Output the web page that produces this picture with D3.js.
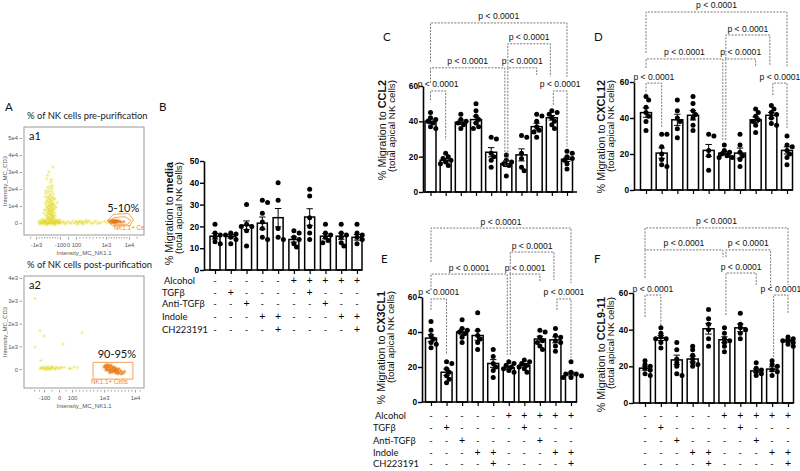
<!DOCTYPE html>
<html><head><meta charset="utf-8">
<script src="https://cdn.jsdelivr.net/npm/d3@7"></script>
<style>body{margin:0;background:#fff}svg{display:block}</style>
</head><body>
<svg id="c" width="800" height="471"></svg>
<script>
// ---------------- DATA ----------------
const groups = ["G1","G2","G3","G4","G5","G6","G7","G8","G9","G10"];
const treatmentNames = ["Alcohol","TGFβ","Anti-TGFβ","Indole","CH223191"];
const alcohol  = ["-","-","-","-","-","+","+","+","+","+"];
const tgfb     = ["-","+","-","-","-","-","+","-","-","-"];
const antiTgfb = ["-","-","+","-","-","-","-","+","-","-"];
const indole   = ["-","-","-","+","+","-","-","-","+","+"];
const ch223191 = ["-","-","-","-","+","-","-","-","-","+"];

const mediaMean = [15.5,15.5,20.5,21.5,24,14,24.3,15.5,15.5,15];
const mediaSem  = [1.3,0.8,2.0,2.8,4.2,1.2,3.8,1.2,1.4,1.3];
const mediaPts  = [[21,17,16,15,13,12],[17,16.5,16,15,14,12],[30,21,20,20,18,11],[32,31,26,22,19,15,14],[40,32,19,15,14],[18,17,15,14,12,10.5],[37,34,24,20,17,14],[21,17,16,15,13.5,12.5],[21,17,16,15,12.5,11],[21,17,16,15,14,12]];

const ccl2Mean = [40,18,39.5,41,22.5,16,21,37,42,18.5];
const ccl2Sem  = [1.3,1.0,1.2,1.9,2.6,1.6,3.4,1.9,1.3,1.2];
const ccl2Pts  = [[45,42,41,40,39,37,36],[22,20,19,18,17,16,15],[44,41,40,39,38,36],[50,46,43,41,39,37,36],[31,30,22,20,18,14],[21,18,17,16,15,9],[32,31,22,19,14,12],[44,43,40,37,35,34,31],[46,45,44,42,40,38,36],[23,22,20,19,18,16,13]];

const cxcl12Mean = [43,20.5,39,41.5,22,20.5,20.5,39,41.5,22];
const cxcl12Sem  = [2.6,2.9,3.1,2.6,3.3,0.9,2.8,1.6,1.6,2.0];
const cxcl12Pts  = [[52,50,46,43,41,38,33],[31,31,24,20,17,14,13],[50,44,40,38,34,29],[52,48,44,42,40,36,33],[31,30,22,19,11],[25,22,21,20,19,18,18],[31,25,21,19,17,13],[45,43,41,39,38,36,32],[47,45,43,42,40,37,36],[30,25,24,22,20,18,14]];

const cx3cl1Mean = [36.5,17,40,38,22,19.5,21,36,35.5,16];
const cx3cl1Sem  = [2.0,1.8,1.6,2.7,2.2,0.8,1.0,1.6,1.7,1.1];
const cx3cl1Pts  = [[46,41,38,36,34,33,31],[23,22,19,17,15,13,11],[47,42,41,40,39,37,34],[51,41,38,36,34,30],[30,26,22,20,18,14],[23,22,21,20,19,18,17],[24,23,22,21,20,19,17],[41,40,37,35,34,32,30],[42,38,37,35,34,32,29],[23,17,16,16,15,14,14]];

const ccl911Mean = [19,35.5,23.5,24,40.5,34.5,41,17.5,18.5,34];
const ccl911Sem  = [1.1,1.4,2.6,1.6,2.9,1.6,2.1,1.0,1.2,0.8];
const ccl911Pts  = [[23,21,20,19,18,16,15],[41,38,36,35,35,33,30],[33,29,24,22,20,16,15],[31,29,26,24,22,21,20],[51,46,43,40,35,31],[41,38,35,34,33,31,28],[49,43,41,40,38,35],[22,19,18,17,16,15],[23,21,20,18,17,15],[36,35,34,34,33,32,31]];

const pLabel = "p < 0.0001";
// comparisons: [groupA, groupB, bracket level, leg end A, leg end B] (in % units)
const ccl2Brackets   = [[0,1,57.2,52,29.5],[0,5,70.3,61.8,15],[5,7,70.3,15,66.3],[5,8,83.9,70.3,65.2],[0,9,95.7,73.7,65.2],[8,9,57.2,49.3,25.5]];
const cxcl12Brackets = [[0,9,98.9,76.1,68.3],[5,8,86.1,72.8,69.4],[0,5,72.8,67.8,27.8],[5,7,72.8,27.8,68.3],[0,1,59.4,52.8,34.4],[8,9,59.4,52.8,34.4]];
const cx3cl1Brackets = [[0,9,99.4,80,68],[5,8,85.7,73.1,69.7],[0,5,73.1,64,26.9],[5,7,73.1,26.9,68.6],[0,1,58.9,52.6,26.9],[8,9,58.9,52.6,25.1]];
const ccl911Brackets = [[0,9,95.5,83.5,64.4],[0,5,83.5,68.2,79.6],[5,8,83.5,79.6,62.7],[5,7,70.9,48,64.4],[0,1,58.9,46.9,42.5],[8,9,58.9,25,49.1]];

// flow cytometry (NK1.1 intensity, CD3 intensity)
const a1XTicks = [-1000,-100,0,100,1000,10000];
const a1XTickLabels = ["-1e3","-100","0","100","1e3","1e4"];
const a1YTicks = [0,10000,20000,30000,40000,50000];
const a1YTickLabels = ["0","1e4","2e4","3e4","4e4","5e4"];
const a2XTicks = [-100,0,100,1000,10000];
const a2XTickLabels = ["-100","0","100","1e3","1e4"];
const a2YTicks = [0,1000,2000,3000,4000];
const a2YTickLabels = ["0","1e3","2e3","3e3","4e3"];

const a1Yellow = [[-520,30000],[-600,26000],[-450,24000],[-380,22000],[-560,21000],[-480,19500],[-400,18500],[-620,17500],[-350,17000],[-500,16000],[-430,15500],[-560,15000],[-330,14500],[-470,14000],[-600,13500],[-410,13000],[-520,12500],[-360,12000],[-650,11500],[-450,11000],[-540,10500],[-300,10000],[-480,9800],[-400,9300],[-580,9000],[-350,8600],[-500,8200],[-430,7800],[-620,7500],[-380,7200],[-530,6800],[-460,6500],[-300,6200],[-570,5900],[-410,5600],[-500,5300],[-350,5000],[-640,4700],[-450,4400],[-380,4100],[-550,3800],[-480,3500],[-320,3200],[-600,2900],[-420,2600],[-520,2300],[-260,2000],[-700,1800],[-440,1500],[-360,33000],[-560,28000],[-400,20500],[-250,9000],[-680,8000],[-280,4500],[-700,6000],[-200,12000],[-650,15500],[-470,11800],[-390,10600],[-520,7100],[-440,5100],[-360,3700],[-590,12200],[-330,8100],
[-500,10200],[-420,9000],[-540,8600],[-460,7400],[-380,6700],[-520,6000],[-440,4800],[-580,4300],[-400,3300],[-480,2900],[-560,2500],[-350,2300],[-450,13500],[-520,14500],[-380,15000],[-470,17000],[-540,18500],[-420,11400],[-600,10000],[-330,11000],[-480,21500],[-420,25500],[-640,19000],[-300,14000],
[-900,800],[-850,200],[-800,1200],[-760,-300],[-720,600],[-680,1500],[-640,0],[-600,900],[-560,-500],[-520,400],[-480,1300],[-440,-200],[-400,700],[-360,100],[-320,1100],[-280,-400],[-240,500],[-200,1400],[-160,-100],[-120,800],[-80,300],[-40,-600],[0,1000],[40,200],[80,-300],[120,600],[200,1200],[280,-200],[360,500],[450,900],[550,0],[650,700],[750,-400],[850,400],[950,1100],[1100,200],[-780,2200],[-600,-900],[-500,2000],[-300,-800],[-100,1800],[150,-700],[400,1700],[-860,-600],[-700,300],[-420,600],[-340,-100],[-180,300],[60,1300],[300,900],[600,-200],[-650,1100],[-550,300],[-380,1700],[-250,1000],[-50,400],[220,300],[500,1300],[-740,900],[-620,-200],[-460,800],[-300,400],[-140,1000],[-20,0],
[-830,500],[-790,-100],[-730,1000],[-690,-500],[-660,700],[-620,1300],[-580,100],[-540,1000],[-500,-300],[-460,300],[-420,1100],[-380,-400],[-340,600],[-300,1300],[-260,-200],[-220,900],[-180,1600],[-140,200],[-100,-300],[-60,900],[20,-200],[100,1000],[160,200],[260,700],[320,-500],[420,200],[700,1200],[800,100]];
const a1Orange = [[2500,800],[3000,1200],[3500,600],[4000,1400],[4500,900],[5000,400],[5500,1100],[6000,700],[3200,1800],[3800,200],[4200,1000],[4800,1600],[2800,300],[5200,1300],[6500,1000],[7000,500],[3600,1000],[4400,500],[2200,1300],[8000,800],[3300,400],[4700,1200],[5800,1500],[3900,1600],[4100,700],[5300,800],[3700,1300],[4600,300],[3400,900],[4300,1200],[5100,1000],[2900,700]];
const a1Gate = [[1500,1350],[3900,5100],[9700,5700],[15700,2200],[11300,-1600],[3600,-1600]];
const a1GateInner = [[2200,1000],[4200,3300],[8500,3700],[12500,1600],[9500,-700],[4200,-700]];

const a2Orange = [[1000,100],[1200,150],[1400,60],[1600,120],[1800,0],[2000,80],[2200,160],[2400,-20],[2600,60],[2800,120],[3000,-60],[3200,20],[3400,80],[3600,-40],[3800,0],[4000,-100],[4200,-20],[4400,40],[4600,-80],[4800,-140],[5000,-40],[5200,-100],[5500,-160],[5800,-60],[6200,-120],[6600,-180],[7000,-100],[1500,-40],[2100,-60],[2700,-100],[3300,-140],[3900,100],[4500,-180],[2300,200],[1700,200],[3100,180],[5300,20],[6000,-220],[2900,-20],[3500,-100],[4100,-60],[4700,0],[2500,100],[3700,60],[4300,-120],[5100,-200],[1900,40],[2650,-160]];
const a2Yellow = [[-130,60],[-120,20],[-110,90],[-100,40],[-95,0],[-90,70],[-80,30],[-75,100],[-70,50],[-60,10],[-55,80],[-50,40],[-40,60],[-30,20],[-20,90],[-10,50],[0,30],[10,80],[20,60],[-85,-20],[-65,-10],[-45,110],[-25,0],[-140,30],[-190,3100],[-140,1700],[-190,960],[-130,380],[380,1600],[90,20],[40,80],[80,40],[150,100],[250,60],[-100,1450],[30,1100]];
const a2Gate = [[690,300],[9400,300],[9400,-435],[690,-435]];

// ---------------- DRAW ----------------
const svg = d3.select("#c");
const FA = "'Liberation Sans', Arial, sans-serif";
const FC = "Lato, 'Open Sans', 'Noto Sans', sans-serif";

function letter(t, x, y){
  svg.append("text").attr("x",x).attr("y",y).attr("font-family",FC).attr("font-size",11.5).attr("fill","#111").text(t);
}

// ---- flow plots ----
function flowPlot(o){
  const g = svg.append("g");
  const x = d3.scaleLinear().domain(o.xDomain).range(o.xFrac.map(f => o.x0 + f*(o.x1-o.x0)));
  const y = d3.scaleLinear().domain(o.yDomain).range([o.y1, o.y0]);
  const id = "clip"+o.name;
  svg.append("clipPath").attr("id",id).append("rect").attr("x",o.x0).attr("y",o.y0).attr("width",o.x1-o.x0).attr("height",o.y1-o.y0);
  g.append("text").attr("x",o.x0+3).attr("y",o.y0-8).attr("font-family",FC).attr("font-size",9.4).attr("fill","#222").text(o.title);
  const inner = g.append("g").attr("clip-path",`url(#${id})`);
  inner.selectAll(".yh").data(o.yellow).join("circle").attr("cx",d=>x(d[0])).attr("cy",d=>y(d[1])).attr("r",2.2).attr("fill","#efe65a").attr("opacity",0.22);
  inner.selectAll(".y").data(o.yellow).join("circle").attr("cx",d=>x(d[0])).attr("cy",d=>y(d[1])).attr("r",0.75).attr("fill","#e3d630").attr("opacity",0.85);
  inner.selectAll(".oh").data(o.orange).join("circle").attr("cx",d=>x(d[0])).attr("cy",d=>y(d[1])).attr("r",2).attr("fill","#f29a3a").attr("opacity",0.3);
  inner.selectAll(".o").data(o.orange).join("circle").attr("cx",d=>x(d[0])).attr("cy",d=>y(d[1])).attr("r",0.9).attr("fill","#e8761a").attr("opacity",0.9);
  o.gates.forEach(gt => inner.append("path").attr("d", d3.line().x(d=>x(d[0])).y(d=>y(d[1])).curve(d3.curveLinearClosed)(gt))
     .attr("fill","none").attr("stroke","#f39a3e").attr("stroke-width",0.9));
  inner.append("text").attr("x",x(o.gateLabelAt[0])).attr("y",y(o.gateLabelAt[1])).attr("text-anchor",o.gateAnchor).attr("font-family",FA).attr("font-size",6.3).attr("fill","#ef8a2a").text("NK1.1+ Cells");
  g.append("rect").attr("x",o.x0).attr("y",o.y0).attr("width",o.x1-o.x0).attr("height",o.y1-o.y0).attr("fill","none").attr("stroke","#9a9a9a").attr("stroke-width",1);
  g.append("text").attr("x",o.x0+5).attr("y",o.y0+13).attr("font-family",FC).attr("font-size",11).attr("fill","#111").text(o.name);
  g.append("text").attr("x",x(o.pctAt[0])).attr("y",y(o.pctAt[1])).attr("font-family",FC).attr("font-size",11).attr("fill","#111").text(o.pct);
  const ax = g.append("g").attr("transform",`translate(0,${o.y1+2})`).call(d3.axisBottom(x).tickValues(o.xTicks).tickFormat((d,i)=>o.xTickLabels[i]).tickSize(2.5));
  const axm = g.append("g").attr("transform",`translate(0,${o.y1+2})`).call(d3.axisBottom(x).tickValues(o.minor).tickFormat("").tickSize(1.5));
  const ay = g.append("g").attr("transform",`translate(${o.x0-2},0)`).call(d3.axisLeft(y).tickValues(o.yTicks).tickFormat((d,i)=>o.yTickLabels[i]).tickSize(2.5));
  [ax,axm,ay].forEach(a=>{a.select(".domain").remove(); a.selectAll("line").attr("stroke","#777").attr("stroke-width",0.7);
    a.selectAll("text").attr("font-family",FA).attr("font-size",5.8).attr("fill","#555");});
  ay.selectAll("text").attr("x",-4);
  g.append("text").attr("x",(o.x0+o.x1)/2).attr("y",o.y1+20).attr("text-anchor","middle").attr("font-family",FA).attr("font-size",6).attr("fill","#555").text("Intensity_MC_NK1.1");
  g.append("text").attr("transform",`translate(${o.x0-17},${(o.y0+o.y1)/2}) rotate(-90)`).attr("text-anchor","middle").attr("font-family",FA).attr("font-size",6).attr("fill","#555").text("Intensity_MC_CD3");
}

letter("A",5,111);
flowPlot({name:"a1", title:"% of NK cells pre-purification", x0:24,x1:144,y0:127,y1:235,
  xDomain:[-3000,-1000,-100,0,100,1000,10000,30000], xFrac:[0,0.1,0.3,0.367,0.433,0.683,0.875,1],
  yDomain:[-7000,56500], xTicks:a1XTicks, xTickLabels:a1XTickLabels, yTicks:a1YTicks, yTickLabels:a1YTickLabels,
  minor:[-2000,-900,-800,-700,-600,-500,-400,-300,-200,200,300,400,500,600,700,800,900,2000,3000,4000,5000,6000,7000,8000,9000,20000],
  yellow:a1Yellow, orange:a1Orange, gates:[a1Gate,a1GateInner], gateLabelAt:[4000,-3900], gateAnchor:"start",
  pct:"5-10%", pctAt:[1500,6700]});
flowPlot({name:"a2", title:"% of NK cells post-purification", x0:24,x1:144,y0:276,y1:388,
  xDomain:[-300,-100,0,100,1000,10000,20000], xFrac:[0,0.167,0.292,0.4,0.667,0.925,1],
  yDomain:[-826,4087], xTicks:a2XTicks, xTickLabels:a2XTickLabels, yTicks:a2YTicks, yTickLabels:a2YTickLabels,
  minor:[-200,-150,-50,50,200,300,400,500,600,700,800,900,2000,3000,4000,5000,6000,7000,8000,9000,15000],
  yellow:a2Yellow, orange:a2Orange, gates:[a2Gate], gateLabelAt:[2600,-660], gateAnchor:"middle",
  pct:"90-95%", pctAt:[820,480]});

// ---- bar panels ----
function swarm(vals, y, r){
  const order = vals.map((v,i)=>[v,i]).sort((a,b)=>b[0]-a[0]);
  const placed = []; const off = new Array(vals.length).fill(0);
  order.forEach(([v,i])=>{
    const py = y(v);
    for (const k of [0,1,-1,2,-2,3,-3,4,-4]) {
      const dx = k*r*1.05;
      if (placed.every(p => (p.dx-dx)**2 + (p.py-py)**2 >= (1.45*r)**2)) { off[i]=dx; placed.push({dx,py}); break; }
    }
  });
  return off;
}

function barPanel(o){
  const g = svg.append("g");
  const x = d3.scalePoint().domain(groups).range([o.b0,o.b1]);
  const y = d3.scaleLinear().domain([0,o.yMax]).range([o.y0,o.yTop]);
  g.selectAll(".bar").data(o.mean).join("rect")
    .attr("x",(d,i)=>x(groups[i])-o.bw/2).attr("y",d=>y(d)).attr("width",o.bw).attr("height",d=>o.y0-y(d))
    .attr("fill","#fff").attr("stroke","#000").attr("stroke-width",1.5);
  o.mean.forEach((m,i)=>{
    const cx = x(groups[i]), s = o.sem[i];
    g.append("line").attr("x1",cx).attr("x2",cx).attr("y1",y(m-s)).attr("y2",y(m+s)).attr("stroke","#000").attr("stroke-width",1);
    [m-s,m+s].forEach(v=>g.append("line").attr("x1",cx-3.2).attr("x2",cx+3.2).attr("y1",y(v)).attr("y2",y(v)).attr("stroke","#000").attr("stroke-width",1));
  });
  o.pts.forEach((arr,i)=>{
    const off = swarm(arr,y,2.5);
    g.selectAll(null).data(arr).join("circle").attr("cx",(d,j)=>x(groups[i])+off[j]).attr("cy",d=>y(d)).attr("r",2.5).attr("fill","#000");
  });
  const ay = g.append("g").attr("transform",`translate(${o.ax},0)`).call(d3.axisLeft(y).tickValues(d3.range(0,o.yMax+1,o.step)).tickSize(4).tickSizeOuter(0));
  ay.select(".domain").attr("stroke-width",1.6);
  ay.selectAll("line").attr("stroke-width",1.4);
  ay.selectAll("text").attr("font-family",FA).attr("font-weight","bold").attr("font-size",8.3).attr("fill","#000").attr("x",-5);
  const axb = g.append("g").attr("transform",`translate(0,${o.y0})`).call(d3.axisBottom(x).tickSize(4).tickSizeOuter(0).tickFormat(""));
  axb.select(".domain").remove();
  axb.selectAll("line").attr("stroke-width",1.2);
  g.append("line").attr("x1",o.ax).attr("x2",o.axEnd).attr("y1",o.y0).attr("y2",o.y0).attr("stroke","#000").attr("stroke-width",1.6);
  const t = g.append("text").attr("transform",`translate(${o.lx},${o.lTop}) rotate(-90)`).attr("text-anchor","end")
    .attr("font-family",FA).attr("font-size",10.8).attr("fill","#111");
  t.append("tspan").text("% Migration to ");
  t.append("tspan").attr("font-weight","bold").text(o.chem);
  g.append("text").attr("transform",`translate(${o.lx+9},${o.lTop}) rotate(-90)`).attr("text-anchor","end")
    .attr("font-family",FA).attr("font-size",9.8).attr("fill","#111").text("(total apical NK cells)");
  const br = o.brackets||[];
  br.forEach(b=>{
    const shareL = br.some(c => c!==b && c[1]===b[0]);
    const shareR = br.some(c => c!==b && c[0]===b[1]);
    const xa = x(groups[b[0]]) + (shareL?1.5:0), xb = x(groups[b[1]]) - (shareR?1.5:0);
    const yt = y(b[2]);
    g.append("path").attr("d",`M${xa},${y(b[3])}V${yt}H${xb}V${y(b[4])}`).attr("fill","none")
      .attr("stroke","#555").attr("stroke-width",0.8).attr("stroke-dasharray","2,1.3");
    g.append("text").attr("x",(xa+xb)/2).attr("y",yt-3.5).attr("text-anchor","middle").attr("font-family",FA).attr("font-size",8.6).attr("fill","#111").text(pLabel);
  });
}

function table(labelX, signsX, baselines, showLabels){
  const rows = [alcohol,tgfb,antiTgfb,indole,ch223191];
  rows.forEach((row,r)=>{
    if (showLabels) svg.append("text").attr("x",labelX + (r===0?2:0)).attr("y",baselines[r]).attr("font-family",FC).attr("font-size",9.4).attr("fill","#111").text(treatmentNames[r]);
    svg.selectAll(null).data(row).join("text").attr("x",(d,i)=>signsX(groups[i])).attr("y",baselines[r]).attr("text-anchor","middle")
      .attr("font-family",FA).attr("font-size",d=>d==="+"?10.5:9).attr("fill","#000").text(d=>d);
  });
}

letter("B",159,111);
const cfgB = {b0:215,b1:357,bw:10,y0:270,yTop:161,yMax:50,step:10,ax:204,axEnd:362,lx:173,lTop:162,chem:"media",mean:mediaMean,sem:mediaSem,pts:mediaPts};
barPanel(cfgB);
table(162, d3.scalePoint().domain(groups).range([cfgB.b0,cfgB.b1]), [283.5,296,307,320,332.5], true);

letter("C",383,41);
barPanel({b0:430.5,b1:567,bw:11,y0:192,yTop:86,yMax:60,step:20,ax:423,axEnd:577,lx:385.5,lTop:80,chem:"CCL2",mean:ccl2Mean,sem:ccl2Sem,pts:ccl2Pts,brackets:ccl2Brackets});

letter("D",594,41);
barPanel({b0:646,b1:787,bw:11,y0:190,yTop:82,yMax:60,step:20,ax:634,axEnd:793,lx:605,lTop:80,chem:"CXCL12",mean:cxcl12Mean,sem:cxcl12Sem,pts:cxcl12Pts,brackets:cxcl12Brackets});

letter("E",381,263);
const cfgE = {b0:431,b1:571,bw:11,y0:402,yTop:297,yMax:60,step:20,ax:422,axEnd:577,lx:385,lTop:291,chem:"CX3CL1",mean:cx3cl1Mean,sem:cx3cl1Sem,pts:cx3cl1Pts,brackets:cx3cl1Brackets};
barPanel(cfgE);
table(373, d3.scalePoint().domain(groups).range([cfgE.b0,cfgE.b1]), [418.5,430.5,443.5,455.5,466.5], true);

letter("F",594,263);
const cfgF = {b0:645,b1:788,bw:11,y0:403,yTop:293,yMax:60,step:20,ax:633,axEnd:793,lx:605,lTop:297,chem:"CCL9-11",mean:ccl911Mean,sem:ccl911Sem,pts:ccl911Pts,brackets:ccl911Brackets};
barPanel(cfgF);
table(0, d3.scalePoint().domain(groups).range([cfgF.b0,cfgF.b1]), [418.5,430.5,443.5,455.5,466.5], false);
</script>
</body></html>
